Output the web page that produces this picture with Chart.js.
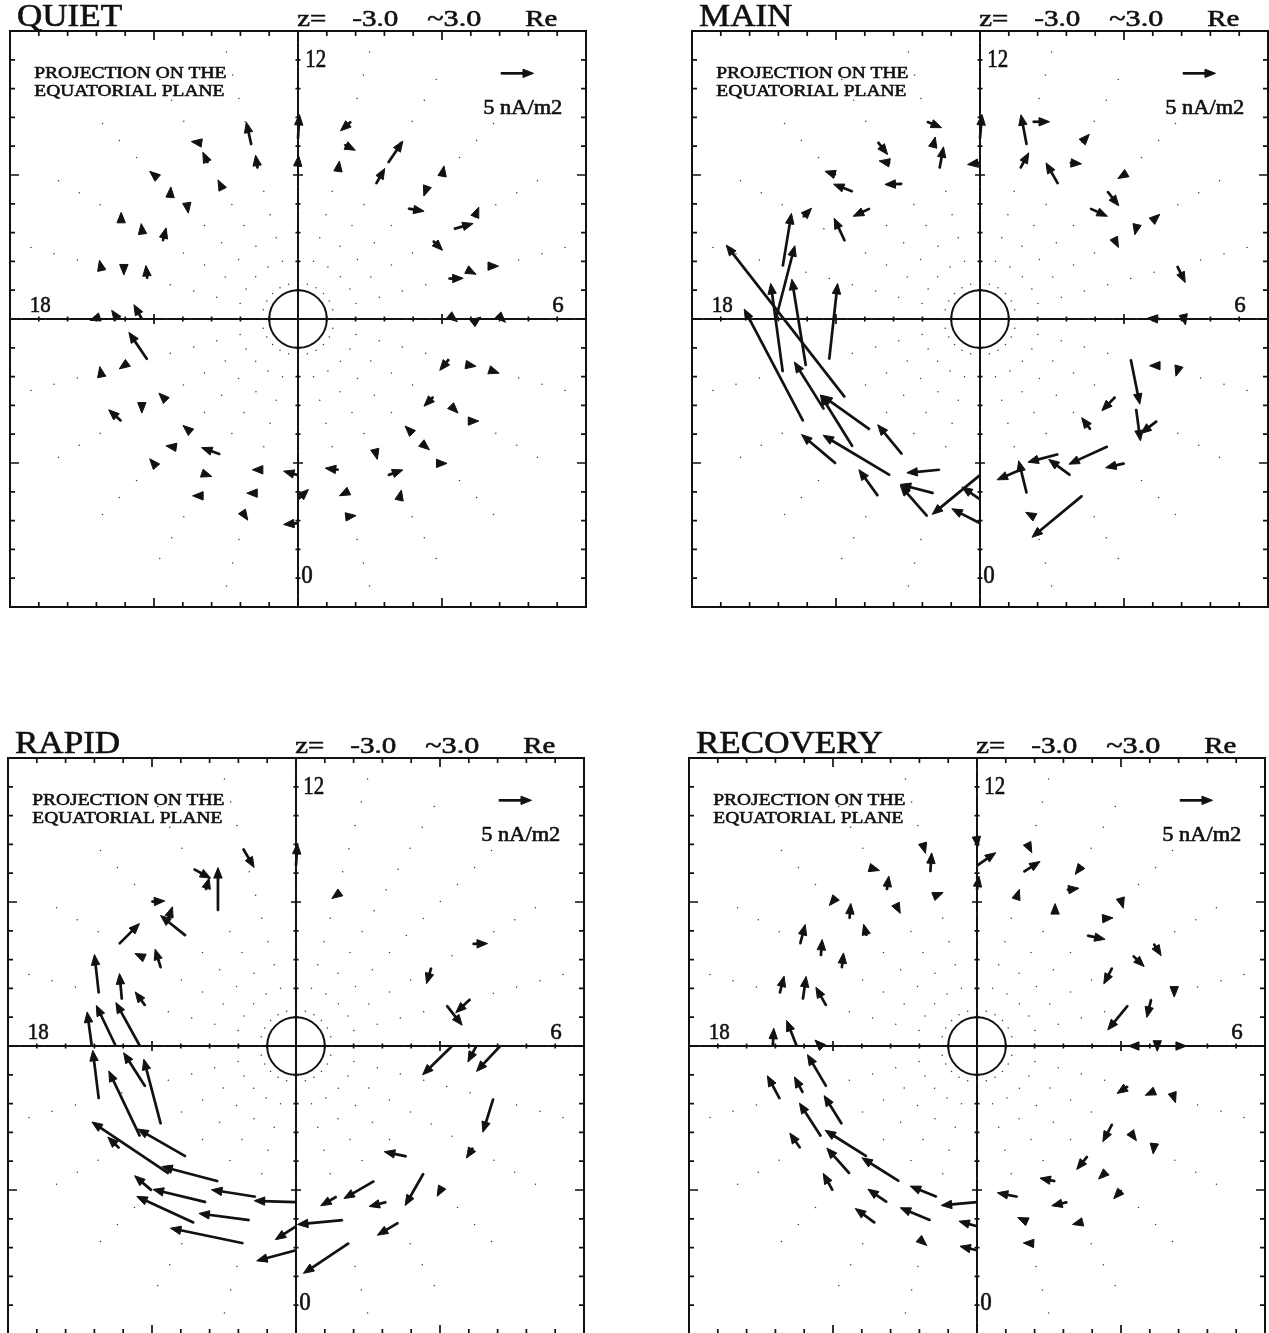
<!DOCTYPE html>
<html>
<head>
<meta charset="utf-8">
<script src="https://cdn.jsdelivr.net/npm/chart.js@4.4.1/dist/chart.umd.min.js"></script>
<style>
  html, body { margin: 0; padding: 0; background: #fff; overflow: hidden; }
  body { width: 1269px; height: 1333px; position: relative; font-family: "Liberation Serif", serif; }
  canvas { position: absolute; }
  .warm { position: absolute; left: -9999px; top: 0; font-family: "Liberation Serif"; }
</style>
</head>
<body>
<span class="warm">QUIET MAIN RAPID RECOVERY z= -3.0 ~3.0 Re</span>
<canvas id="pQuiet" width="600" height="620"></canvas>
<canvas id="pMain" width="600" height="620"></canvas>
<canvas id="pRapid" width="600" height="620"></canvas>
<canvas id="pRecovery" width="600" height="620"></canvas>
<script>
// Sample grid: radial distance (Re) and magnetic local time (h)
const gridRadii = [1.25, 2.08, 2.92, 3.75, 4.59, 5.42, 6.26, 7.09, 7.93, 8.77, 9.6];
const gridHours = [0, 1, 2, 3, 4, 5, 6, 7, 8, 9, 10, 11, 12, 13, 14, 15, 16, 17, 18, 19, 20, 21, 22, 23];

// Axis ticks (Re)
const tickValues = [-9, -8, -7, -6, -5, -4, -3, -2, -1, 1, 2, 3, 4, 5, 6, 7, 8, 9];
const majorTicks = [-5, 5];

// Labels
const panelTitles = ['QUIET', 'MAIN', 'RAPID', 'RECOVERY'];
const zRangeLabels = ['z=', '-3.0', '~3.0', 'Re'];
const noteLines = ['PROJECTION ON THE', 'EQUATORIAL PLANE'];
const mltLabels = ['12', '0', '18', '6'];
const refCurrent = 5;            // nA/m2, length of the key arrow
const refLabel = '5 nA/m2';

// Current density vectors: [MLT (h), ring index into gridRadii, jx (dawnward), jy (sunward)] in nA/m2
const quietVectors = [
  [13, 6, -0.77, 3.47], [13, 5, -0.31, 1.99],
  [14, 7, -0.7, 0.1], [14, 6, -0.77, 1.63], [14, 5, -0.3, 0.6],
  [15, 7, -0.6, 0.5], [15, 6, 0.05, 0.7], [15, 5, 0.1, -0.7],
  [16, 7, 0, 0.7], [16, 6, -0.1, 0.8], [16, 5, 0.5, 2.0],
  [17, 7, -0.2, 0.9], [17, 6, 0, -0.4], [17, 5, -0.2, 2.0],
  [18, 7, -0.6, -0.2], [18, 6, -0.92, 1.33], [18, 5, -1.22, 2.19],
  [19, 7, -0.15, 0.8], [19, 6, -0.7, -0.5], [19, 5, -2.8, 4.13],
  [20, 7, -1.9, 1.73], [20, 6, 0, -0.6], [20, 5, -0.6, 0.6],
  [21, 7, -0.6, 0.7], [21, 6, -0.7, 0.1], [21, 5, -0.7, 0.6],
  [22, 7, -0.5, 0], [22, 6, 0.6, -0.2], [22, 5, -2.8, 1.0],
  [23, 7, 0.4, -0.6], [23, 6, -0.7, 0], [23, 5, -0.8, 0],
  [0, 7, -2.2, -0.2], [0, 6, 1.6, 1.5], [0, 5, -2.2, 0.6],
  [12, 6, 0.2, 3.7], [12, 5, 0.1, 1.1],
  [11, 7, -1.58, -1.38], [11, 6, 1.63, -0.82], [11, 5, 0.15, 1.1],
  [10, 6, 2.24, 3.32], [10, 5, 1.33, 2.35],
  [9, 7, 0.25, 1.33], [9, 6, -0.25, -0.7], [9, 5, 2.4, -0.4],
  [8, 7, 0.6, 1.5], [8, 6, 2.9, 0.82], [8, 5, 1.43, -1.43],
  [7, 7, 0.5, 0], [7, 6, 0.6, -0.3], [7, 5, 2.2, 0.05],
  [6, 7, 0.5, -0.5], [6, 6, 0.4, 0.3], [6, 5, 0.5, -0.4],
  [5, 7, 0.6, -0.2], [5, 6, 0.6, -0.1], [5, 5, -1.38, -1.68],
  [4, 7, 0.6, 0], [4, 6, 0.6, -0.6], [4, 5, -1.4, -1.4],
  [3, 7, 0.7, 0], [3, 6, 0.6, -0.5], [3, 5, -0.5, 0.5],
  [2, 7, 0.2, 0.9], [2, 6, 2.24, 0.8], [2, 5, 0.2, -0.8],
  [1, 7, 0.8, 0.1], [1, 6, -0.8, -0.4], [1, 5, -2.0, 0.25]
];

const mainVectors = [
  [13, 7, 2.2, -0.9], [13, 6, 0.3, 1.2], [13, 5, 0.6, 3.27],
  [12, 6, 0.3, 3.7], [12, 5, -1.9, -0.25],
  [14, 7, 1.48, -1.89], [14, 6, -1.63, 0.3], [14, 5, -2.6, -0.1],
  [15, 7, -1.63, 0.51], [15, 6, -2.9, 1.12], [15, 5, -2.5, -1.17],
  [16, 7, 1.28, 1.33], [16, 5, -1.63, 3.47],
  [17, 7, 1.33, 8.06], [18, 7, 2.9, 11.2],
  [19, 7, -1.84, 13.5], [19, 6, -2.14, 13.2], [19, 5, 1.28, 11.6],
  [20, 7, -9.0, 17.1], [20, 6, -4.5, 7.2], [20, 5, -18.1, 23.2],
  [21, 7, -5.2, 4.4], [21, 6, -4.9, 7.9], [21, 5, -7.3, 5.2],
  [22, 7, -2.9, 4.0], [22, 6, -10.2, 6.1], [22, 5, -3.7, 4.5],
  [23, 7, -4.1, 4.7], [23, 6, -5.05, 1.33], [23, 5, -5.0, -0.46],
  [0, 7, -4.3, 2.2], [0, 6, -2.76, 1.89], [0, 5, -7.3, -6.0],
  [11, 7, 2.55, 0], [11, 6, -0.87, 4.6], [11, 5, 1.28, 2.35],
  [10, 7, 1.1, 1.2], [10, 6, 1.73, -0.15], [10, 5, -1.84, 3.2],
  [9, 7, -1.0, -0.6], [9, 6, 1.73, -2.19], [9, 5, 2.6, -1.17],
  [8, 7, 0.45, 0.4], [8, 6, -0.2, -0.9], [8, 5, 0.5, -1.0],
  [7, 7, 1.22, -2.5],
  [6, 7, 0.2, -0.9], [6, 6, -2.0, 0.1],
  [5, 7, -0.2, -0.66], [5, 6, -0.7, 0], [5, 5, 1.38, -6.84],
  [4, 7, -2.45, -1.89], [4, 6, 0.66, -4.85], [4, 5, -2.04, -2.09],
  [3, 7, -2.86, -0.66], [3, 6, -5.9, -2.7], [3, 5, -1.33, 1.79],
  [2, 7, -7.65, -6.33], [2, 6, -3.27, 2.4], [2, 5, -4.6, -1.22],
  [1, 7, -1.1, 0.6], [1, 6, -1.22, 4.95], [1, 5, -3.57, -1.53]
];

const rapidVectors = [
  [13, 7, 1.68, -2.86], [12, 6, 0.2, 3.4],
  [14, 7, 2.55, -1.38], [14, 6, 0.5, 1.8], [14, 5, 0, 6.6],
  [15, 7, 2.0, 0.1], [15, 6, 0.6, 1.8], [15, 5, -3.83, 3.06],
  [16, 7, 3.1, 3.1], [16, 6, -0.75, 0.35], [16, 5, -0.87, 2.86],
  [17, 7, -0.66, 5.9], [17, 6, -0.36, 3.93], [17, 5, -1.53, 2.09],
  [18, 7, -0.71, 5.2], [18, 6, -2.96, 6.2], [18, 5, -3.67, 6.63],
  [19, 7, -0.92, 7.4], [19, 5, -3.3, 5.15],
  [20, 7, -1.73, 1.68], [20, 6, -4.74, 9.95], [20, 5, -2.6, 9.9],
  [21, 7, -2.6, 2.24], [21, 6, -11.7, 7.86], [21, 5, -7.3, 4.18],
  [22, 7, -8.72, 4.03], [22, 6, -8.06, 1.94], [22, 5, -8.57, 2.24],
  [23, 7, -11.1, 2.3], [23, 6, -7.7, 1.02], [23, 5, -6.73, 1.07],
  [0, 7, -6.0, -1.63], [0, 6, -3.16, -2.04], [0, 5, -6.38, 0.2],
  [11, 5, -0.7, -0.5],
  [8, 7, 2.24, 0.05], [8, 5, -0.71, -2.4],
  [7, 6, -2.2, -2.04], [7, 5, 2.35, -3.0],
  [6, 7, -3.62, -3.88], [6, 6, -1.28, -2.45], [6, 5, -4.5, -4.4],
  [5, 7, -1.58, -5.1], [4, 7, -0.97, -1.53],
  [3, 7, -0.5, -0.9], [3, 6, -2.8, -4.9], [3, 5, -3.37, 0.71],
  [2, 7, -3.16, -1.89], [2, 6, -2.6, -0.66], [2, 5, -4.6, -2.65],
  [1, 7, -6.94, -4.6], [1, 6, -6.9, -0.66], [1, 5, -2.4, -1.38]
];

const recoveryVectors = [
  [13, 7, 0.2, -0.7], [13, 6, 0.2, 2.9], [13, 5, 1.0, 0.4],
  [14, 7, 0.7, -0.2], [14, 6, 0.3, 2.1], [14, 5, 0.2, -0.4],
  [15, 7, -0.5, -0.6], [15, 6, 0.2, 2.3], [15, 5, -0.46, 1.73],
  [16, 7, 0.77, 2.96], [16, 6, 0.2, 2.5], [16, 5, 0.26, 2.3],
  [17, 7, 0.66, 2.6], [17, 6, 0.5, 3.5], [17, 5, -1.58, 2.8],
  [18, 7, 0.15, 2.7], [18, 6, -1.53, 3.88], [18, 5, -0.9, 0.9],
  [19, 7, -1.89, 3.52], [19, 6, -1.28, 2.4], [19, 5, -2.86, 4.85],
  [20, 7, -1.58, 2.3], [20, 6, -3.27, 5.05], [20, 5, -2.7, 4.34],
  [21, 7, -1.43, 2.6], [21, 6, -3.47, 3.88], [21, 5, -6.33, 3.98],
  [22, 7, -3.0, 2.19], [22, 6, -2.9, 1.99], [22, 5, -5.66, 3.57],
  [23, 7, 0.4, -0.35], [23, 6, -4.6, 1.89], [23, 5, -4.03, 1.63],
  [0, 7, -2.6, 0.6], [0, 6, -2.76, 0.77], [0, 5, -5.46, -0.51],
  [12, 7, 0.1, -0.8], [12, 6, 2.86, 1.99], [12, 5, 0.3, 2.1],
  [11, 7, 0.3, -0.6], [11, 6, 2.5, 1.58], [11, 5, 0.3, 0.9],
  [10, 7, -0.6, -0.8], [10, 6, 1.8, 0.25], [10, 5, 0, 1.1],
  [9, 7, 0.3, -1.0], [9, 6, 1.3, 0.1], [9, 5, 2.7, -0.56],
  [8, 7, 1.12, -1.79], [8, 6, 1.68, -1.63], [8, 5, -1.28, -2.45],
  [7, 7, 0, -0.6], [7, 6, -0.66, -2.76], [7, 5, -3.06, -3.72],
  [6, 7, 0.8, 0], [6, 6, 0, -0.8], [6, 5, -0.7, 0],
  [5, 7, 0.2, -0.6], [5, 6, -0.9, -0.4], [5, 5, -1.63, -1.07],
  [4, 7, -0.1, -0.9], [4, 6, 0.5, -0.7], [4, 5, -1.43, -2.7],
  [3, 7, -1.17, -1.28], [3, 6, -0.9, -0.85], [3, 5, -1.63, -2.0],
  [2, 7, -1.0, -0.25], [2, 6, -2.35, -0.56], [2, 5, -2.3, 0.46],
  [1, 7, -1.0, 0.05], [1, 6, -0.9, 0.4], [1, 5, -3.06, 0.61]
];

// ---- drawing setup ----
const RE_PER_NA = 0.2274;      // arrow length in Re per nA/m2
const INK = '#111';
const SERIF = '"Liberation Serif", serif';

function mltAngle(h) { return (h - 6) * Math.PI / 12; }

// dots at every grid sample position
const gridPoints = [];
gridRadii.forEach(r => gridHours.forEach(h => {
  const a = mltAngle(h);
  gridPoints.push({ x: r * Math.cos(a), y: r * Math.sin(a) });
}));

function drawArrow(ctx, x0, y0, x1, y1) {
  const dx = x1 - x0, dy = y1 - y0;
  const L = Math.hypot(dx, dy);
  if (L < 0.01) return;
  const ux = dx / L, uy = dy / L;
  const head = 10.5, halfW = 4.2;
  if (L > head * 0.75) {
    ctx.beginPath();
    ctx.moveTo(x0, y0);
    ctx.lineTo(x1 - ux * head * 0.75, y1 - uy * head * 0.75);
    ctx.stroke();
  }
  const bx = x1 - ux * head, by = y1 - uy * head;
  ctx.beginPath();
  ctx.moveTo(x1, y1);
  ctx.lineTo(bx - uy * halfW, by + ux * halfW);
  ctx.lineTo(bx + uy * halfW, by - ux * halfW);
  ctx.closePath();
  ctx.fill();
  ctx.save();
  ctx.lineWidth = 1;
  ctx.lineJoin = 'round';
  ctx.stroke();
  ctx.restore();
}

function fitText(ctx, str, x, baseline, size, width) {
  ctx.font = size + 'px ' + SERIF;
  const w = ctx.measureText(str).width;
  ctx.save();
  ctx.translate(x, baseline);
  ctx.scale(width / w, 1);
  ctx.fillText(str, 0, 0);
  ctx.lineWidth = 0.6;
  ctx.strokeText(str, 0, 0);
  ctx.restore();
}

function panelPlugin(title, vectors) {
  return {
    id: 'panel_' + title,
    beforeDatasetsDraw(chart) {
      const { ctx, chartArea: a, scales: { x, y } } = chart;
      const cx = x.getPixelForValue(0), cy = y.getPixelForValue(0);
      ctx.save();
      ctx.strokeStyle = INK;
      ctx.lineWidth = 2;
      ctx.strokeRect(a.left, a.top, a.right - a.left, a.bottom - a.top);
      // axes through the origin
      ctx.beginPath();
      ctx.moveTo(a.left, cy); ctx.lineTo(a.right, cy);
      ctx.moveTo(cx, a.top); ctx.lineTo(cx, a.bottom);
      ctx.stroke();
      // ticks on the frame and on the axes
      ctx.lineWidth = 1.7;
      ctx.beginPath();
      tickValues.forEach(v => {
        const major = majorTicks.includes(v);
        const len = major ? 9 : 5;
        const cross = major ? 5 : 2.5;
        const px = x.getPixelForValue(v), py = y.getPixelForValue(v);
        ctx.moveTo(px, a.top); ctx.lineTo(px, a.top + len);
        ctx.moveTo(px, a.bottom); ctx.lineTo(px, a.bottom - len);
        ctx.moveTo(a.left, py); ctx.lineTo(a.left + len, py);
        ctx.moveTo(a.right, py); ctx.lineTo(a.right - len, py);
        ctx.moveTo(px, cy - cross); ctx.lineTo(px, cy + cross);
        ctx.moveTo(cx - cross, py); ctx.lineTo(cx + cross, py);
      });
      ctx.stroke();
      // Earth
      ctx.lineWidth = 2;
      ctx.beginPath();
      ctx.arc(cx, cy, x.getPixelForValue(1) - cx, 0, Math.PI * 2);
      ctx.stroke();
      ctx.restore();
    },
    afterDatasetsDraw(chart) {
      const { ctx, scales: { x, y } } = chart;
      const cx = x.getPixelForValue(0), cy = y.getPixelForValue(0);
      ctx.save();
      ctx.strokeStyle = INK;
      ctx.fillStyle = INK;
      ctx.lineWidth = 2.7;
      ctx.lineCap = 'butt';
      vectors.forEach(([h, k, jx, jy]) => {
        const a = mltAngle(h), r = gridRadii[k];
        const tx = r * Math.cos(a), ty = r * Math.sin(a);
        drawArrow(ctx,
          x.getPixelForValue(tx), y.getPixelForValue(ty),
          x.getPixelForValue(tx + jx * RE_PER_NA), y.getPixelForValue(ty + jy * RE_PER_NA));
      });
      // key arrow
      const kx = 7.04, ky = 8.53;
      drawArrow(ctx, x.getPixelForValue(kx), y.getPixelForValue(ky),
        x.getPixelForValue(kx + refCurrent * RE_PER_NA), y.getPixelForValue(ky));

      // texts
      ctx.textBaseline = 'alphabetic';
      ctx.textAlign = 'left';
      ctx.font = '31px ' + SERIF;
      fitText(ctx, title, cx - 281, cy - 293, 31, ctx.measureText(title).width * 1.13);
      const zx = [-0.7, 54.3, 129.3, 227.3], zw = [29, 46, 54, 32];
      zRangeLabels.forEach((s, i) => fitText(ctx, s, cx + zx[i], cy - 293.5, 24, zw[i]));
      fitText(ctx, noteLines[0], cx - 263.7, cy - 240.8, 17, 192);
      fitText(ctx, noteLines[1], cx - 263.7, cy - 223.5, 17, 190);
      fitText(ctx, refLabel, cx + 185.3, cy - 205.5, 21, 79);
      fitText(ctx, mltLabels[0], cx + 7.3, cy - 252.3, 25, 21);
      fitText(ctx, mltLabels[1], cx + 3.3, cy + 264, 25, 11.5);
      fitText(ctx, mltLabels[2], cx - 268.2, cy - 7, 24, 21);
      fitText(ctx, mltLabels[3], cx + 254.3, cy - 7, 24, 11.5);
      ctx.restore();
    }
  };
}

function makePanel(id, title, vectors, centerX, centerY) {
  const canvas = document.getElementById(id);
  canvas.style.left = (centerX - 300) + 'px';
  canvas.style.top = (centerY - 320) + 'px';
  return new Chart(canvas, {
    type: 'scatter',
    data: {
      datasets: [{
        data: gridPoints,
        pointRadius: 0.75,
        pointHoverRadius: 0,
        pointBackgroundColor: '#3a3a3a',
        pointBorderWidth: 0
      }]
    },
    options: {
      responsive: false,
      animation: false,
      events: [],
      devicePixelRatio: 1,
      layout: { padding: { left: 12, right: 12, top: 32, bottom: 12 } },
      scales: {
        x: { type: 'linear', min: -10, max: 10, display: false },
        y: { type: 'linear', min: -10, max: 10, display: false }
      },
      plugins: { legend: { display: false }, tooltip: { enabled: false } }
    },
    plugins: [panelPlugin(title, vectors)]
  });
}

function buildAll() {
  makePanel('pQuiet', panelTitles[0], quietVectors, 298, 319);
  makePanel('pMain', panelTitles[1], mainVectors, 980, 319);
  makePanel('pRapid', panelTitles[2], rapidVectors, 296, 1046);
  makePanel('pRecovery', panelTitles[3], recoveryVectors, 977, 1046);
}

if (document.fonts && document.fonts.load) {
  document.fonts.load('20px "Liberation Serif"').then(buildAll, buildAll);
} else {
  buildAll();
}
</script>
</body>
</html>
